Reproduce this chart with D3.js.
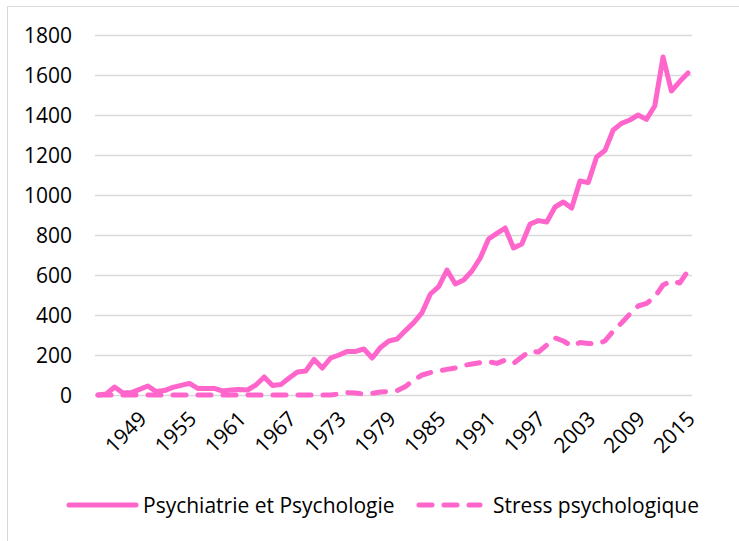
<!DOCTYPE html>
<html><head><meta charset="utf-8">
<script src="https://cdn.jsdelivr.net/npm/d3@7/dist/d3.min.js"></script>
<style>body{margin:0;background:#fff}svg{display:block}text{font-family:"Open Sans",sans-serif;fill:#000}</style>
</head><body><svg id="c" width="739" height="541"></svg>
<script>
const years = d3.range(1944, 2016);
const psychiatrie = [0,5,40,10,12,28,45,17,22,38,48,58,33,33,33,20,25,28,25,50,90,48,52,85,115,120,178,135,185,200,218,218,230,185,238,270,280,322,362,412,505,542,625,555,575,620,685,780,808,835,735,755,855,872,865,940,965,935,1070,1062,1190,1222,1325,1358,1375,1400,1378,1445,1690,1520,1567,1610];
const stress = [0,0,0,0,0,0,0,0,0,0,0,0,0,0,0,0,0,0,0,0,0,0,0,0,0,0,0,0,0,5,12,10,5,8,15,17,22,43,75,100,112,120,128,135,148,155,162,167,158,175,158,190,220,215,250,285,270,245,262,258,255,270,320,360,405,445,458,490,550,570,560,620];
const yTicks = [0,200,400,600,800,1000,1200,1400,1600,1800];
const xTickYears = [1949,1955,1961,1967,1973,1979,1985,1991,1997,2003,2009,2015];
const seriesNames = ["Psychiatrie et Psychologie","Stress psychologique"];

const svg = d3.select("#c");
const color = "#ff66cc";
const fs = "21px";
svg.append("rect").attr("x",7.5).attr("y",6.5).attr("width",760).attr("height",560)
  .attr("fill","#fff").attr("stroke","#d9d9d9").attr("stroke-width",1);

const x = d3.scaleLinear().domain([1944,2015]).range([98,688]);
const y = d3.scaleLinear().domain([0,1800]).range([395,35]);
const gx0 = 95, gx1 = 692;

svg.append("g").selectAll("line").data(yTicks).join("line")
  .attr("x1",gx0).attr("x2",gx1).attr("y1",d=>Math.round(y(d))+0.5).attr("y2",d=>Math.round(y(d))+0.5)
  .attr("stroke","#d9d9d9").attr("stroke-width",1.3);

svg.append("g").selectAll("text").data(yTicks).join("text")
  .attr("x",72).attr("y",d=>y(d)).attr("dy","0.36em").attr("text-anchor","end")
  .style("font-size",fs).text(d=>d);

svg.append("g").selectAll("text").data(xTickYears).join("text")
  .attr("transform",d=>`translate(${x(d)+3},${415}) rotate(-45)`)
  .attr("text-anchor","end").attr("dy","0.36em").style("font-size",fs).text(d=>d);

const line = d3.line().x((d,i)=>x(years[i])).y(d=>y(d)).curve(d3.curveLinear);
svg.append("path").datum(stress).attr("d",line).attr("fill","none").attr("stroke",color)
  .attr("stroke-width",5).attr("stroke-dasharray","13,12").attr("stroke-linecap","round").attr("stroke-linejoin","round");
svg.append("path").datum(psychiatrie).attr("d",line).attr("fill","none").attr("stroke",color)
  .attr("stroke-width",5).attr("stroke-linecap","round").attr("stroke-linejoin","round");

// legend
const lg = svg.append("g");
lg.append("line").attr("x1",69).attr("x2",136).attr("y1",505).attr("y2",505).attr("stroke",color).attr("stroke-width",5).attr("stroke-linecap","round");
lg.append("text").attr("x",143).attr("y",505).attr("dy","0.36em").style("font-size",fs).text(seriesNames[0]);
lg.append("line").attr("x1",419).attr("x2",480).attr("y1",505).attr("y2",505).attr("stroke",color).attr("stroke-width",5).attr("stroke-dasharray","13,12").attr("stroke-linecap","round");
lg.append("text").attr("x",493).attr("y",505).attr("dy","0.36em").style("font-size",fs).text(seriesNames[1]);
</script></body></html>
